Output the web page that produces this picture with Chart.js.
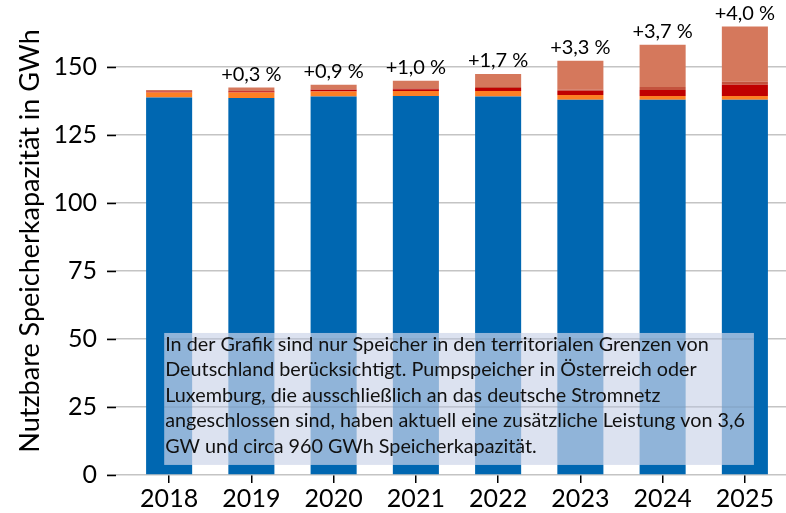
<!DOCTYPE html>
<html>
<head>
<meta charset="utf-8">
<script src="https://cdn.jsdelivr.net/npm/chart.js@4/dist/chart.umd.min.js"></script>
<style>
  html, body { margin: 0; padding: 0; background: #ffffff; }
  #wrap { width: 786px; height: 513px; }
</style>
</head>
<body>
<div id="wrap"><canvas id="c" width="786" height="513"></canvas></div>
<script>
// ---- data ----
const years = ['2018', '2019', '2020', '2021', '2022', '2023', '2024', '2025'];
const pumpspeicher    = [138.7, 138.6, 139.1, 139.3, 139.1, 137.9, 137.9, 137.9];
const seriesOrange    = [1.9, 2.0, 1.8, 1.8, 2.0, 1.8, 1.4, 1.4];
const seriesRed       = [0.3, 0.4, 0.7, 0.7, 1.1, 1.5, 2.2, 4.1];
const seriesDarkSalm  = [0.1, 0.1, 0.2, 0.3, 0.4, 0.4, 1.1, 1.1];
const seriesSalmon    = [0.5, 1.3, 1.6, 2.8, 4.8, 10.6, 15.5, 20.3];
const growthLabels    = ['', '+0,3 %', '+0,9 %', '+1,0 %', '+1,7 %', '+3,3 %', '+3,7 %', '+4,0 %'];
const yTicks          = [0, 25, 50, 75, 100, 125, 150];
const yTitle          = 'Nutzbare Speicherkapazität in GWh';
const noteLines = [
  'In der Grafik sind nur Speicher in den territorialen Grenzen von',
  'Deutschland berücksichtigt. Pumpspeicher in Österreich oder',
  'Luxemburg, die ausschließlich an das deutsche Stromnetz',
  'angeschlossen sind, haben aktuell eine zusätzliche Leistung von 3,6',
  'GW und circa 960 GWh Speicherkapazität.'
];

const FONT = 'Lato, "Open Sans", sans-serif';

// fit note font so its widest line matches the reference width
const mctx = document.createElement('canvas').getContext('2d');
mctx.font = '100px ' + FONT;
let widest = 0;
noteLines.forEach(l => { widest = Math.max(widest, mctx.measureText(l).width); });
const noteFontSize = 100 * 580 / widest;

const growthPlugin = {
  id: 'growthLabels',
  afterDatasetsDraw(chart) {
    const { ctx, scales: { x, y } } = chart;
    ctx.save();
    ctx.font = '20px ' + FONT;
    ctx.fillStyle = '#000000';
    ctx.textAlign = 'center';
    ctx.textBaseline = 'alphabetic';
    years.forEach((yr, i) => {
      if (!growthLabels[i]) return;
      let total = 0;
      chart.data.datasets.forEach(ds => { total += ds.data[i]; });
      ctx.fillText(growthLabels[i], x.getPixelForValue(i), y.getPixelForValue(total) - 7);
    });
    ctx.restore();
  }
};

const notePlugin = {
  id: 'noteBox',
  afterDatasetsDraw(chart) {
    const { ctx, scales: { x, y } } = chart;
    const step = x.getPixelForValue(1) - x.getPixelForValue(0);
    const left = x.getPixelForValue(0) - 0.06 * step;
    const right = x.getPixelForValue(7) + 0.11 * step;
    const top = y.getPixelForValue(52.2);
    const bottom = y.getPixelForValue(3.7);
    ctx.save();
    ctx.fillStyle = 'rgba(205, 214, 234, 0.70)';
    ctx.fillRect(left, top, right - left, bottom - top);
    // faint gridlines showing through the box
    ctx.strokeStyle = 'rgba(0,0,0,0.07)';
    ctx.lineWidth = 1.5;
    yTicks.forEach(v => {
      const py = y.getPixelForValue(v);
      if (py > top && py < bottom) {
        ctx.beginPath(); ctx.moveTo(left, py); ctx.lineTo(right, py); ctx.stroke();
      }
    });
    ctx.font = noteFontSize + 'px ' + FONT;
    ctx.fillStyle = '#111111';
    ctx.textAlign = 'left';
    ctx.textBaseline = 'alphabetic';
    const lh = 25.5;
    noteLines.forEach((l, k) => {
      ctx.fillText(l, left + 1, top + 18 + k * lh);
    });
    ctx.restore();
  }
};

const tickDashPlugin = {
  id: 'tickDash',
  afterDraw(chart) {
    const { ctx, chartArea, scales: { y } } = chart;
    ctx.save();
    ctx.strokeStyle = '#000000';
    ctx.lineWidth = 1.5;
    yTicks.forEach(v => {
      const py = Math.round(y.getPixelForValue(v)) + 0.5;
      ctx.beginPath();
      ctx.moveTo(chartArea.left - 21, py);
      ctx.lineTo(chartArea.left - 12, py);
      ctx.stroke();
    });
    ctx.restore();
  }
};

const mk = (label, data, color) => ({
  label, data, backgroundColor: color, borderWidth: 0,
  barPercentage: 0.56, categoryPercentage: 1.0
});

new Chart(document.getElementById('c'), {
  type: 'bar',
  data: {
    labels: years,
    datasets: [
      mk('Pumpspeicher', pumpspeicher, '#0067b1'),
      mk('Speicher A', seriesOrange, '#fd7f24'),
      mk('Speicher B', seriesRed, '#c00000'),
      mk('Speicher C', seriesDarkSalm, '#c4523d'),
      mk('Speicher D', seriesSalmon, '#d5785c')
    ]
  },
  options: {
    responsive: false,
    animation: false,
    layout: { padding: { top: 7, right: 0, left: 0, bottom: 0 } },
    plugins: { legend: { display: false }, tooltip: { enabled: false } },
    scales: {
      x: {
        stacked: true,
        afterFit(s) { s.height = 38; s.paddingLeft = 0; s.paddingRight = 0; },
        grid: { display: true, drawOnChartArea: false, offset: false, tickLength: 8, tickColor: '#000000', lineWidth: 1.5 },
        border: { display: false },
        ticks: { color: '#000000', font: { family: FONT, size: 25 }, padding: 1 }
      },
      y: {
        stacked: true,
        min: 0,
        max: 172,
        afterFit(s) { s.width = 128; s.paddingTop = 0; s.paddingBottom = 0; },
        afterBuildTicks(s) { s.ticks = yTicks.map(v => ({ value: v })); },
        grid: { color: '#c4c4c4', lineWidth: 1.5, tickLength: 21, tickColor: '#c4c4c4' },
        border: { display: false },
        ticks: { color: '#000000', font: { family: FONT, size: 25 }, padding: 10 },
        title: { display: true, text: yTitle, color: '#000000', font: { family: FONT, size: 27 }, padding: { top: 14, bottom: 0 } }
      }
    }
  },
  plugins: [growthPlugin, notePlugin, tickDashPlugin]
});
</script>
</body>
</html>
